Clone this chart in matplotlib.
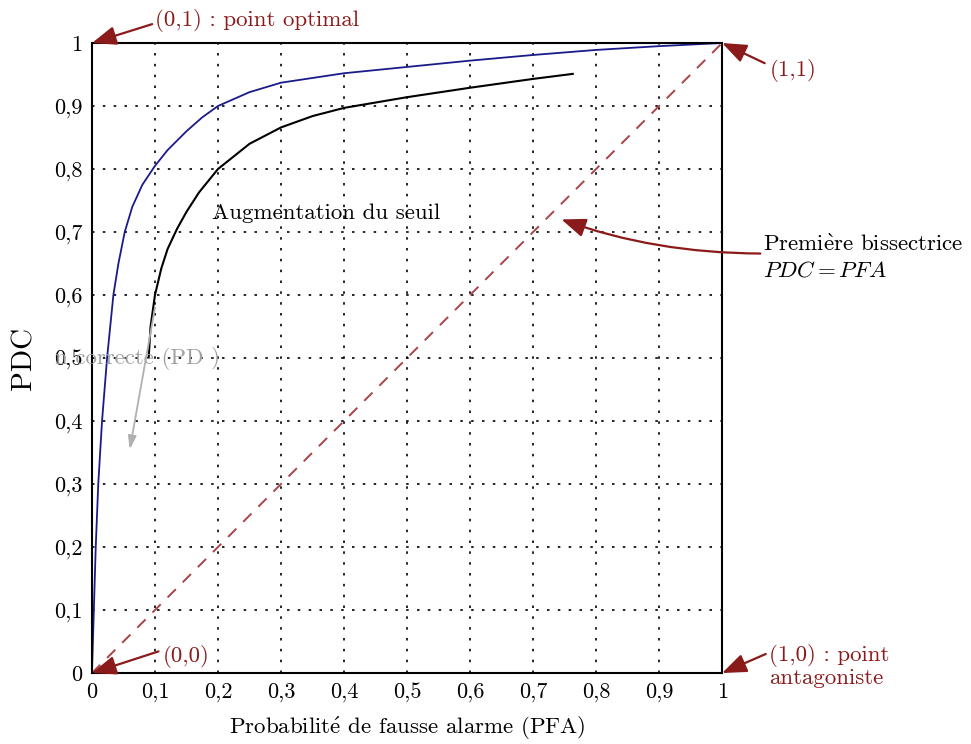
import numpy as np
import matplotlib
matplotlib.use("Agg")
from matplotlib import pyplot as plt

# courbe ROC optimale (bleue)
blue_pfa = [0.0, 0.003, 0.006, 0.01, 0.016, 0.024, 0.034, 0.042, 0.052, 0.064, 0.08, 0.1,
            0.12, 0.15, 0.175, 0.2, 0.25, 0.3, 0.4, 0.5, 0.6, 0.7, 0.8, 0.9, 1.0]
blue_pdc = [0.0, 0.1, 0.2, 0.3, 0.4, 0.5, 0.6, 0.65, 0.7, 0.74, 0.775, 0.805,
            0.83, 0.86, 0.882, 0.9, 0.922, 0.937, 0.952, 0.962, 0.972, 0.981, 0.989, 0.995, 1.0]

# courbe ROC reelle (noire)
black_pfa = [0.09, 0.093, 0.1, 0.11, 0.12, 0.135, 0.15, 0.17, 0.2, 0.25, 0.3, 0.35,
             0.4, 0.5, 0.6, 0.7, 0.763]
black_pdc = [0.5, 0.55, 0.6, 0.642, 0.673, 0.705, 0.732, 0.763, 0.8, 0.84, 0.866, 0.884,
             0.897, 0.914, 0.929, 0.943, 0.951]

ticks = [0, 0.1, 0.2, 0.3, 0.4, 0.5, 0.6, 0.7, 0.8, 0.9, 1]
tick_labels = ["0", "0,1", "0,2", "0,3", "0,4", "0,5", "0,6", "0,7", "0,8", "0,9", "1"]

plt.rcParams['font.family'] = ['cmr10', 'DejaVu Serif']
plt.rcParams['mathtext.fontset'] = 'cm'
plt.rcParams['axes.unicode_minus'] = False

red = '#8b1a1a'
fs = 16.5

fig = plt.figure(figsize=(9.71, 7.44), dpi=100)
ax = fig.add_axes([0.0947, 0.0954, 0.649, 0.8468])

ax.plot([0, 1], [0, 1], '--', color='#a8444a', lw=1.4, dashes=(6, 5))
ax.plot(blue_pfa, blue_pdc, color='#1a1a8a', lw=1.3)
ax.plot(black_pfa, black_pdc, color='black', lw=1.5)

ax.set_xlim(0, 1)
ax.set_ylim(0, 1)
ax.set_xticks(ticks)
ax.set_xticklabels(tick_labels)
ax.set_yticks(ticks)
ax.set_yticklabels(tick_labels)
ax.tick_params(length=0, labelsize=16, pad=7)
ax.grid(True, color='black', linestyle=(0, (1.5, 5)), lw=1.2)
for s in ax.spines.values():
    s.set_linewidth(1.5)

ax.set_xlabel(r"Probabilit$\mathrm{\acute{e}}$ de fausse alarme (PFA)", fontsize=fs, labelpad=9)
ax.set_ylabel("PDC", fontsize=21, labelpad=12)

akw = dict(arrowstyle='-|>,head_length=0.9,head_width=0.35', color=red, lw=1.6, shrinkA=0, shrinkB=0)

ax.annotate("(0,1) : point optimal", xy=(0, 1), xytext=(0.1, 1.035),
            fontsize=fs, color=red, va='center', ha='left',
            arrowprops=dict(akw, relpos=(0, 0.4)), annotation_clip=False)
ax.annotate("(1,1)", xy=(1, 1), xytext=(1.075, 0.957),
            fontsize=fs, color=red, va='center', ha='left',
            arrowprops=dict(akw, relpos=(-0.1, 0.8)), annotation_clip=False)
ax.annotate("(0,0)", xy=(0, 0), xytext=(0.113, 0.027),
            fontsize=fs, color=red, va='center', ha='left',
            arrowprops=dict(akw, relpos=(-0.1, 0.7)), annotation_clip=False)
ax.annotate("(1,0) : point\nantagoniste", xy=(1, 0), xytext=(1.075, 0.011),
            fontsize=fs, color=red, va='center', ha='left', linespacing=1.05,
            arrowprops=dict(akw, relpos=(-0.03, 0.78)), annotation_clip=False)

ax.annotate("Premi$\\mathrm{\\grave{e}}$re bissectrice\n$PDC = PFA$", xy=(0.745, 0.72),
            xytext=(1.065, 0.66),
            fontsize=fs, color='black', va='center', ha='left', linespacing=1.3,
            arrowprops=dict(akw, relpos=(0, 0.58), connectionstyle='angle3,angleA=0,angleB=-20'),
            annotation_clip=False)

ax.text(0.19, 0.73, "Augmentation du seuil", fontsize=fs, va='center', ha='left')

ax.text(-0.058, 0.5, "n correcte (PD )", fontsize=fs, color='#a0a0a0',
        va='center', ha='left', clip_on=False)
ax.annotate("", xy=(0.06, 0.355), xytext=(0.1, 0.58),
            arrowprops=dict(arrowstyle='-|>,head_length=0.8,head_width=0.25',
                            color='#b0b0b0', lw=1.3, shrinkA=0, shrinkB=0))

fig.savefig("out.png", dpi=100)
